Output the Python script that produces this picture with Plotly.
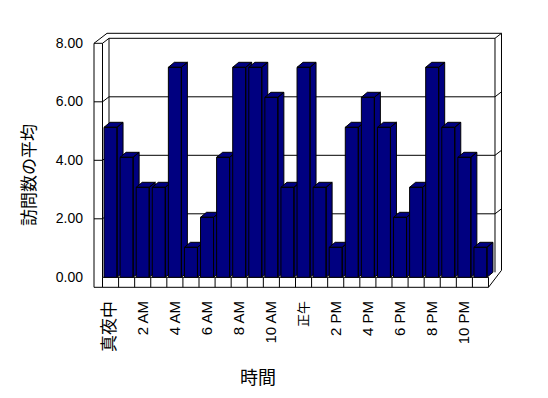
import plotly.graph_objects as go

# ---------------- data ----------------
HOURS = ["真夜中", "1 AM", "2 AM", "3 AM", "4 AM", "5 AM", "6 AM", "7 AM",
         "8 AM", "9 AM", "10 AM", "11 AM", "正午", "1 PM", "2 PM", "3 PM",
         "4 PM", "5 PM", "6 PM", "7 PM", "8 PM", "9 PM", "10 PM", "11 PM"]
VISITS = [5, 4, 3, 3, 7, 1, 2, 4, 7, 7, 6, 3, 7, 3, 1, 5, 6, 5, 2, 3, 7, 5, 4, 1]
Y_TICKS = [0, 2, 4, 6, 8]
Y_TICK_TEXT = ["0.00", "2.00", "4.00", "6.00", "8.00"]
X_TICK_IDX = list(range(0, 24, 2))
Y_TITLE = "訪問数の平均"
X_TITLE = "時間"

# ---------------- style / geometry ----------------
FONT = "Liberation Sans, Arial, Noto Sans CJK JP, sans-serif"
NAVY = "#000080"
OFF = 8              # page body margin
CAT_PX = 16.083      # pixels per category
BAR_PX = 30.0        # pixels per value unit for bars
AX_PX = 29.25        # pixels per value unit for walls / labels

def px_x(d):
    return d / CAT_PX

def px_y(d):
    return d / BAR_PX

def ax(v):
    return v * AX_PX / BAR_PX

n = len(VISITS)
XL1 = -0.5
XL0 = XL1 - px_x(8.5)
XR = n - 0.5
D1 = (px_x(6.5), px_y(5))
D2 = (px_x(13), px_y(10))
TOP = ax(Y_TICKS[-1])
FLOOR_B = -px_y(10)
RB = px_y(7)

shapes = []

def line(x0, y0, x1, y1):
    shapes.append(dict(type="line", xref="x", yref="y", x0=x0, y0=y0, x1=x1, y1=y1,
                       line=dict(color="black", width=1), layer="below"))

def rect(x0, y0, x1, y1):
    shapes.append(dict(type="rect", xref="x", yref="y", x0=x0, y0=y0, x1=x1, y1=y1,
                       line=dict(color="black", width=1), fillcolor="white", layer="below"))

# left wall front face + floor front face
rect(XL0, FLOOR_B, XL1, TOP)
rect(XL1, FLOOR_B, XR, 0)
# top edges
line(XL0, TOP, XL0 + D2[0], TOP + D2[1])
line(XL1, TOP, XL1 + D1[0], TOP + D1[1])
line(XL0 + D2[0], TOP + D2[1], XR + D2[0], TOP + D2[1])
line(XL1 + D1[0], TOP + D1[1], XR + D1[0], TOP + D1[1])
line(XR + D1[0], TOP + D1[1], XR + D2[0], TOP + D2[1])
# right edges
line(XR + D2[0], TOP + D2[1], XR + D2[0], RB)
line(XR, FLOOR_B, XR + D2[0], RB)
line(XR + D1[0], TOP + D1[1], XR + D1[0], RB - px_y(2))
# back wall left edge
line(XL1 + D1[0], TOP + D1[1], XL1 + D1[0], D1[1])
# gridlines
for v in Y_TICKS[1:-1]:
    y = ax(v)
    line(XL0, y, XL1, y)
    line(XL1, y, XL1 + D1[0], y + D1[1])
    line(XL1 + D1[0], y + D1[1], XR + D1[0], y + D1[1])
    line(XR + D1[0], y + D1[1], XR + D2[0], y + D2[1])
# floor cells
for k in range(1, n):
    line(k - 0.5, FLOOR_B, k - 0.5, 0)

fig = go.Figure()

h = px_x(6.5)
bdx = px_x(6)
bdy = px_y(5)
for i, v in enumerate(VISITS):
    c = i
    xs, ys = [], []
    polys = [
        [(c - h, 0), (c + h, 0), (c + h, v), (c - h, v)],
        [(c + h, 0), (c + h + bdx, bdy), (c + h + bdx, v + bdy), (c + h, v)],
        [(c - h, v), (c + h, v), (c + h + bdx, v + bdy), (c - h + bdx, v + bdy)],
    ]
    for p in polys:
        p = p + [p[0]]
        xs += [q[0] for q in p] + [None]
        ys += [q[1] for q in p] + [None]
    fig.add_trace(go.Scatter(x=xs, y=ys, mode="lines", fill="toself",
                             fillcolor=NAVY, line=dict(color="black", width=1),
                             hoverinfo="skip", showlegend=False, name=HOURS[i]))

fig.add_trace(go.Scatter(x=[None], y=[None], yaxis="y2", showlegend=False, hoverinfo="skip"))

SIZE_OVERRIDE = {"真夜中": 17, "正午": 13}
tick_text = []
for i in X_TICK_IDX:
    t = HOURS[i]
    if t in SIZE_OVERRIDE:
        t = '<span style="font-size:%dpx">%s</span>' % (SIZE_OVERRIDE[t], t)
    tick_text.append(t)

# target pixel positions in the window, converted to figure coordinates
W, H = 548 - OFF, 398 - OFF
L, R, T, B = 90 - OFF, 505 - OFF, 30 - OFF, 290 - OFF
X0 = 102.5 - OFF
BASE_BAR = 277.3 - OFF
BASE_AX = 277.0 - OFF
x_lo = (L - X0) / CAT_PX - 0.5
x_hi = (R - X0) / CAT_PX - 0.5
y_lo = (BASE_BAR - B) / BAR_PX
y_hi = (BASE_BAR - T) / BAR_PX
y2_lo = (BASE_AX - B) / AX_PX
y2_hi = (BASE_AX - T) / AX_PX

fig.update_layout(
    width=W, height=H,
    margin=dict(l=L, r=W - R, t=T, b=H - B, pad=0),
    paper_bgcolor="white", plot_bgcolor="white",
    font=dict(family=FONT, size=14, color="black"),
    showlegend=False,
    shapes=shapes,
    xaxis=dict(range=[x_lo, x_hi], showgrid=False, zeroline=False, showline=False,
               tickmode="array", tickvals=X_TICK_IDX, ticktext=tick_text,
               tickangle=-90, ticks="", tickfont=dict(size=15, color="black"),
               ticklabelstandoff=7, fixedrange=True),
    yaxis=dict(range=[y_lo, y_hi], visible=False, fixedrange=True),
    yaxis2=dict(range=[y2_lo, y2_hi], overlaying="y", side="left", anchor="x",
                showgrid=False, zeroline=False, showline=False,
                tickmode="array", tickvals=Y_TICKS, ticktext=Y_TICK_TEXT,
                ticks="", tickfont=dict(size=14, color="black"),
                ticklabelstandoff=6, fixedrange=True),
    annotations=[
        dict(text=Y_TITLE, xref="paper", yref="paper",
             x=(29 - OFF - L) / (R - L), y=(B - (175 - OFF)) / (B - T),
             textangle=-90, showarrow=False, font=dict(size=17, color="black"),
             xanchor="center", yanchor="middle"),
        dict(text=X_TITLE, xref="paper", yref="paper",
             x=(258 - OFF - L) / (R - L), y=(B - (378 - OFF)) / (B - T),
             showarrow=False, font=dict(size=18, color="black"),
             xanchor="center", yanchor="middle"),
    ],
)

fig.write_html("out.html", config={"displayModeBar": False})
